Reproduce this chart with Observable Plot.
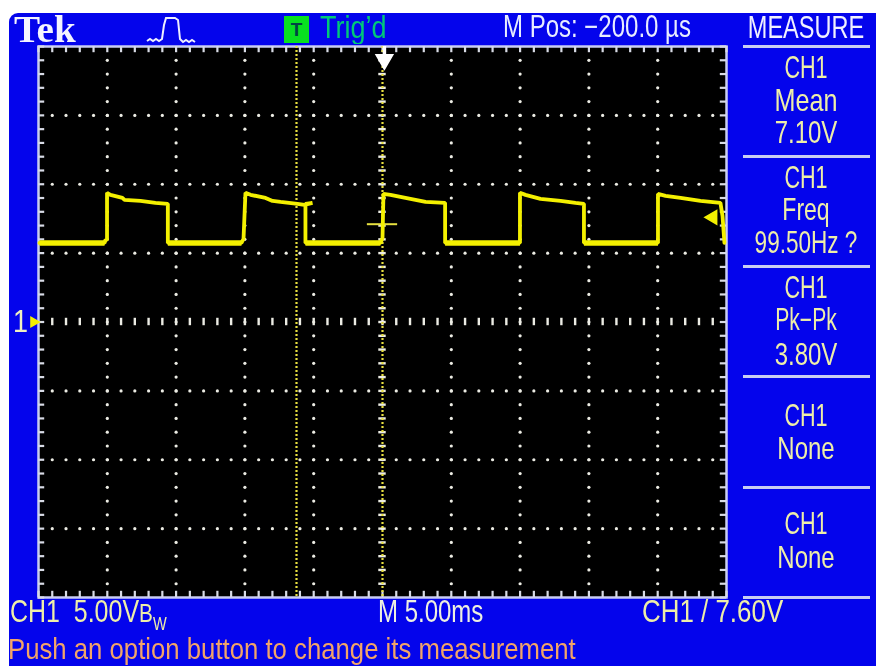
<!DOCTYPE html>
<html><head><meta charset="utf-8">
<script src="https://cdn.jsdelivr.net/npm/d3@7"></script>
<script src="https://cdn.jsdelivr.net/npm/@observablehq/plot@0.6"></script>
<style>
html,body{margin:0;padding:0;background:#fff;width:876px;height:666px;overflow:hidden}
#stage{position:relative;width:876px;height:666px;filter:blur(.6px)}
#scope{position:absolute;left:9px;top:13px;width:867px;height:653px;background:#0404ec;border-top-left-radius:9px}
#chart{position:absolute;left:0;top:0}
.t{position:absolute;white-space:pre;font-family:"Liberation Sans",sans-serif;font-size:24px;line-height:28px;color:#eeeea8}
.r{position:absolute;left:743px;width:127px;height:3px;background:#c9cdf2}
</style></head><body>
<div id="stage"><div id="scope"></div><div id="chart"></div></div>
<script>
const traceMs=[-24.93,-20.20,-20.13,-20.02,-20.02,-19.77,-18.90,-18.75,-17.59,-16.50,-15.60,-15.60,-10.25,-10.10,-9.96,-9.59,-8.50,-7.99,-7.41,-6.18,-5.67,-5.09,-5.60,-5.60,-0.15,0,0.07,0.58,2.03,3.13,4.55,4.55,9.99,9.99,10.39,11.48,12.94,14.03,14.64,14.64,20.02,20.02,20.57,21.66,23.11,24.56,24.71,24.85];
const traceVolts=[5.74,5.74,5.96,5.96,9.38,9.23,9.01,8.87,8.79,8.65,8.58,5.74,5.74,6.03,9.38,9.23,9.01,8.79,8.72,8.58,8.50,8.65,8.58,5.74,5.74,6.10,9.30,9.23,8.94,8.72,8.65,5.74,5.74,9.38,9.23,8.94,8.79,8.65,8.58,5.74,5.74,9.30,9.16,9.01,8.79,8.65,7.70,5.74];
const meanVolts=7.10, triggerVolts=7.60, triggerMs=0.14, cursorMs=-6.25;
const measureText=["MEASURE","CH1","Mean","7.10V","CH1","Freq","99.50Hz ?","CH1","Pk\u2212Pk","3.80V","CH1","None","CH1","None"];

const measureY=[28,68,101,133,178,210,243,288,320,355,416,449,524,558];
const measureSx=[0.98,0.9,1.05,1,0.9,0.96,0.94,0.9,0.88,1,0.9,1,0.9,1];
const dividerRows=[46,156,266,376,487,597];
const trace=traceMs.map((t,i)=>({t,v:traceVolts[i]}));
const lows=d3.pairs(trace).filter(([a,b])=>a.v<6&&b.v<6&&b.t-a.t>1);
const xTicks=d3.range(-25,25.01,1), yTicks=d3.range(-20,20.01,1);
const xMajor=xTicks.filter(d=>d%5===0&&Math.abs(d)<25), yMajor=yTicks.filter(d=>d%5===0&&Math.abs(d)<20);
const cross=(xs,ys)=>xs.flatMap(x=>ys.map(y=>({x,y})));
const gridCol="#ecece4", tickCol="#d8dbe6", yel="#f4f000";
const inner=(a,d)=>a.filter(v=>Math.abs(v)<d);

const svg=Plot.plot({
  width:876,height:666,marginLeft:38,marginRight:150,marginTop:46,marginBottom:69,
  style:{background:"transparent"},
  x:{domain:[-25,25],axis:null},y:{domain:[-20,20],axis:null},
  marks:[
    Plot.frame({fill:"#000",stroke:"#c9cdf2",strokeWidth:2.5}),
    Plot.dot(cross(xMajor.filter(d=>d!==0),inner(yTicks,20)),{x:"x",y:"y",r:1.6,fill:gridCol}),
    Plot.dot(cross(inner(xTicks,25),yMajor.filter(d=>d!==0)),{x:"x",y:"y",r:1.6,fill:gridCol}),
    Plot.ruleX(inner(xTicks,25),{x:d=>d,y1:-0.27,y2:0.27,stroke:gridCol,strokeWidth:2.4}),
    Plot.ruleY(inner(yTicks,20),{y:d=>d,x1:-0.27,x2:0.27,stroke:gridCol,strokeWidth:2.4}),
    Plot.ruleX(xTicks,{x:d=>d,y1:20,y2:19.55,stroke:tickCol,strokeWidth:2.2}),
    Plot.ruleX(xTicks,{x:d=>d,y1:-20,y2:-19.55,stroke:tickCol,strokeWidth:2.2}),
    Plot.ruleY(yTicks,{y:d=>d,x1:-25,x2:-24.55,stroke:tickCol,strokeWidth:2.2}),
    Plot.ruleY(yTicks,{y:d=>d,x1:25,x2:24.55,stroke:tickCol,strokeWidth:2.2}),
    Plot.ruleX([cursorMs,0],{stroke:"#e8e040",strokeWidth:2.2,strokeDasharray:"2 2"}),
    Plot.ruleY([meanVolts],{x1:-1.1,x2:1.1,stroke:"#e6e040",strokeWidth:2}),
    Plot.link(lows,{x1:d=>d[0].t,x2:d=>d[1].t,y1:d=>d[0].v,y2:d=>d[1].v,stroke:yel,strokeWidth:5.5,strokeLinecap:"butt"}),
    Plot.line(trace,{x:"t",y:"v",stroke:yel,strokeWidth:3.8,curve:"linear",strokeLinejoin:"miter"}),
    Plot.ruleX([triggerMs],{y1:20,y2:18.6,stroke:"#fff",strokeWidth:3.5}),
    Plot.dot([triggerMs],{x:d=>d,y:[19.05],symbol:"triangle2",r:8,rotate:180,fill:"#fff",stroke:"#fff"}),
    Plot.dot([triggerVolts],{x:[24.0],y:d=>d,symbol:"triangle2",r:6.5,rotate:-90,fill:yel,stroke:yel}),
    Plot.dot([0],{x:[-25.35],y:d=>d,symbol:"triangle2",r:4.5,rotate:90,fill:yel,stroke:yel})
  ]});
const stage=document.getElementById("stage");
document.getElementById("chart").append(svg);
function put(text,x,y,opt={}){
  const e=document.createElement("div");
  e.className="t";
  e.innerHTML=text;
  e.style.left=x+"px"; e.style.top=(y-14)+"px";
  if(opt.color)e.style.color=opt.color;
  if(opt.size)e.style.fontSize=opt.size+"px";
  if(opt.css)e.style.cssText+=opt.css;
  const sx=opt.sx??1, sy=opt.sy??1.28;
  e.style.transform=(opt.center?"translateX(-50%) ":"")+`scale(${sx},${sy})`;
  e.style.transformOrigin=opt.center?"50% 50%":"0 50%";
  stage.append(e);
}
measureText.forEach((s,i)=>put(s,806,measureY[i],{center:true,sx:measureSx[i],color:i?undefined:"#f0f0ff"}));
for(const y of dividerRows){const r=document.createElement("div");r.className="r";r.style.top=(y-1)+"px";stage.append(r);}
put("Tek",14,29,{size:38,sy:1,sx:1.03,color:"#f4f4ff",css:"font-family:'Liberation Serif';font-weight:bold"});
put("M Pos: \u2212200.0 \u00b5s",503,27,{color:"#e8ecff"});
put("Trig\u2019d",320,26,{color:"#00c878",size:25,sx:1.08});
const tb=document.createElement("div");
tb.textContent="T";
tb.style.cssText="position:absolute;left:284px;top:16px;width:25px;height:27px;background:#08e020;color:#044;font:bold 19px/28px 'Liberation Sans';text-align:center";
stage.append(tb);
const ns="http://www.w3.org/2000/svg";
const ic=document.createElementNS(ns,"svg");
ic.setAttribute("width",50);ic.setAttribute("height",30);
ic.style.cssText="position:absolute;left:146px;top:14px";
ic.innerHTML='<path d="M1 27l3-2 3 2 3-2 3 2 3-2 2-14 2-7h9l3 2 2 19 3 3 3-2 3 2 3-2 3 2" fill="none" stroke="#eef" stroke-width="2"/>';
stage.append(ic);
put("1",13,322,{size:27,sy:1.15,color:"#f0f0c0"});
put("CH1  5.00V<span style='font-size:20px'>B</span><sub style='font-size:14px;line-height:0'>W</sub>",10,612,{sx:1.04});
put("M 5.00ms",378,612,{color:"#eef0e0"});
put("CH1 / 7.60V",642,612,{sx:1.08});
put("Push an option button to change its measurement",8,649,{color:"#f2a468",size:24.5,sx:1.05,sy:1.2});
</script></body></html>
